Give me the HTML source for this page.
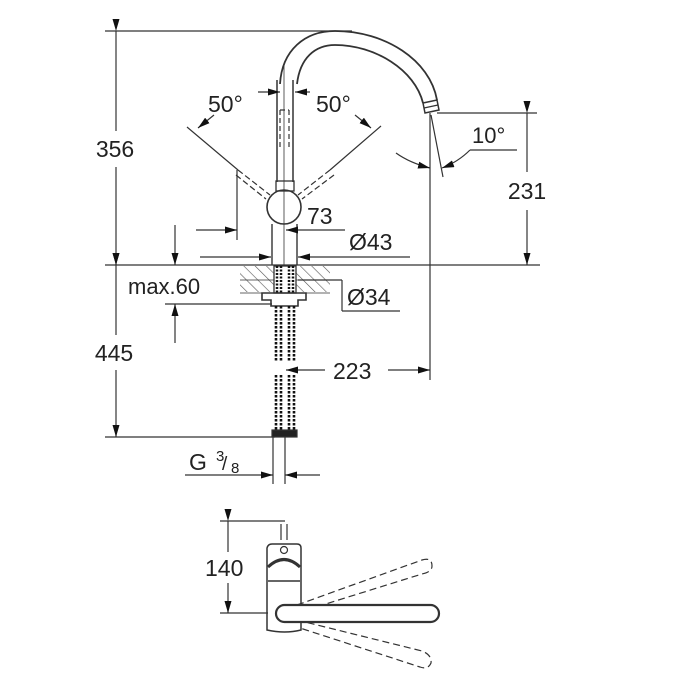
<!DOCTYPE html>
<html><head><style>html,body{margin:0;padding:0;background:#fff}svg{display:block}text{font-family:"Liberation Sans",sans-serif;fill:#222}</style></head>
<body>
<svg width="678" height="686" viewBox="0 0 678 686" xmlns="http://www.w3.org/2000/svg">
<defs>
<marker id="a" viewBox="0 0 12 7" refX="12" refY="3.5" markerWidth="12" markerHeight="7" orient="auto" markerUnits="userSpaceOnUse"><path d="M0,0L12,3.5L0,7z" fill="#111"/></marker>
<pattern id="h" width="8" height="8" patternUnits="userSpaceOnUse" patternTransform="rotate(-45)"><line x1="0" y1="0" x2="0" y2="8" stroke="#555" stroke-width="1.2"/></pattern>
</defs>
<g stroke="#333" stroke-width="1.2" fill="none">
<line x1="105" y1="31" x2="352" y2="31"/>
<line x1="105" y1="265" x2="540" y2="265"/>
<line x1="105" y1="437" x2="275" y2="437"/>
<line x1="116" y1="31" x2="116" y2="131" marker-start="url(#a)"/>
<line x1="116" y1="167" x2="116" y2="265" marker-end="url(#a)"/>
<line x1="116" y1="265" x2="116" y2="335" marker-start="url(#a)"/>
<line x1="116" y1="370" x2="116" y2="437" marker-end="url(#a)"/>
<line x1="175" y1="225" x2="175" y2="265" marker-end="url(#a)"/>
<line x1="165" y1="304" x2="272" y2="304"/>
<line x1="175" y1="343" x2="175" y2="304" marker-end="url(#a)"/>
<path d="M280,84 C282,50 305,31 335,31 C385,31 430,60 437,100" stroke-width="1.8"/>
<path d="M297,84 C300,58 315,45 335,45 C375,45 415,70 423,103" stroke-width="1.8"/>
<path d="M423,103 L437,100 L439,110 L425,113 Z" stroke-width="1.5"/>
<line x1="424" y1="108" x2="438" y2="105"/>
<line x1="277" y1="80" x2="277" y2="182" stroke-width="1.5"/>
<line x1="293" y1="80" x2="293" y2="182" stroke-width="1.5"/>
<path d="M280,110 L280,150 M289,110 L289,150 M280,110 L289,110" stroke-dasharray="5,3"/>
<rect x="276" y="181" width="18" height="10" stroke-width="1.3"/>
<circle cx="284" cy="207" r="17" stroke-width="1.6"/>
<line x1="284" y1="65" x2="284" y2="270" stroke-width="0.8"/>
<line x1="272" y1="224" x2="272" y2="265" stroke-width="1.4"/>
<line x1="297" y1="224" x2="297" y2="265" stroke-width="1.4"/>
<line x1="187" y1="127" x2="238" y2="170"/>
<path d="M238,170 L270,195 M236,175 L266,199" stroke-dasharray="6,3"/>
<line x1="381" y1="126" x2="330" y2="170"/>
<path d="M330,170 L298,195 M334,175 L302,199" stroke-dasharray="6,3"/>
<path d="M214,115 L198,128" marker-end="url(#a)"/>
<path d="M355,115 L371,128" marker-end="url(#a)"/>
<line x1="258" y1="92" x2="280" y2="92" marker-end="url(#a)"/>
<line x1="310" y1="92" x2="295" y2="92" marker-end="url(#a)"/>
<line x1="237" y1="170" x2="237" y2="240"/>
<line x1="196" y1="230" x2="237" y2="230" marker-end="url(#a)"/>
<line x1="345" y1="230" x2="286" y2="230" marker-end="url(#a)"/>
<line x1="200" y1="257" x2="271" y2="257" marker-end="url(#a)"/>
<line x1="410" y1="257" x2="298" y2="257" marker-end="url(#a)"/>
<rect x="240" y="266" width="90" height="26" fill="url(#h)" stroke="none"/>
<line x1="240" y1="280" x2="330" y2="280" stroke-width="0.8"/>
<line x1="240" y1="293" x2="330" y2="293" stroke-width="0.8"/>
<rect x="274" y="266" width="22" height="27" fill="#fff" stroke-width="1.3"/>
<path d="M277,266v27M281,266v27M289,266v27M293,266v27" stroke="#111" stroke-dasharray="2,1.5" stroke-width="2.5"/>
<path d="M262,293 L306,293 L306,300 L298,300 L298,306 L271,306 L271,300 L262,300 Z" stroke-width="1.6"/>
<line x1="298" y1="280" x2="342" y2="280"/>
<line x1="342" y1="280" x2="342" y2="311"/>
<line x1="342" y1="311" x2="400" y2="311"/>
<path d="M276,306v56M281,306v56M289,306v56M294,306v56" stroke="#111" stroke-dasharray="2.5,1.5" stroke-width="2.6"/>
<path d="M276,375v55M281,375v55M289,375v55M294,375v55" stroke="#111" stroke-dasharray="2.5,1.5" stroke-width="2.6"/>
<rect x="272" y="430" width="25" height="7" fill="#222"/>
<line x1="430" y1="113" x2="430" y2="380"/>
<line x1="325" y1="370" x2="286" y2="370" marker-end="url(#a)"/>
<line x1="388" y1="370" x2="430" y2="370" marker-end="url(#a)"/>
<line x1="437" y1="113" x2="537" y2="113"/>
<line x1="431" y1="115" x2="443" y2="177"/>
<path d="M396,153 Q410,163 430,168" marker-end="url(#a)"/>
<path d="M470,150 L517,150"/>
<path d="M470,150 Q458,162 442,168" marker-end="url(#a)"/>
<line x1="527" y1="113" x2="527" y2="172" marker-start="url(#a)"/>
<line x1="527" y1="210" x2="527" y2="265" marker-end="url(#a)"/>
<line x1="273" y1="437" x2="273" y2="484"/>
<line x1="285" y1="437" x2="285" y2="484"/>
<line x1="185" y1="475" x2="273" y2="475" marker-end="url(#a)"/>
<line x1="320" y1="475" x2="285" y2="475" marker-end="url(#a)"/>
<line x1="220" y1="521" x2="285" y2="521"/>
<line x1="220" y1="613" x2="268" y2="613"/>
<line x1="228" y1="521" x2="228" y2="552" marker-start="url(#a)"/>
<line x1="228" y1="583" x2="228" y2="613" marker-end="url(#a)"/>
<path d="M267,630 L267,548 Q268,544 272,544 L297,544 Q301,544 301,548 L301,630 Q285,634 267,630 Z" stroke-width="1.5"/>
<path d="M268,567 Q284,552 300,567" stroke-width="3"/>
<line x1="268" y1="581" x2="300" y2="581" stroke-width="1.5"/>
<circle cx="284" cy="550" r="3.5"/>
<line x1="281" y1="524" x2="281" y2="540"/><line x1="287" y1="524" x2="287" y2="540"/>
<path d="M297,605 L422,560 Q432,557 432,566 Q432,572 422,574 L300,612" stroke-dasharray="7,4"/>
<path d="M297,620 L422,651 Q432,655 431,663 Q428,670 420,667 L300,628" stroke-dasharray="7,4"/>
<rect x="276" y="605" width="163" height="17" rx="8.5" fill="#fff" stroke-width="2.2"/>
</g>
<g font-size="23">
<text x="115" y="157" text-anchor="middle">356</text>
<text x="114" y="361" text-anchor="middle">445</text>
<text x="128" y="294" font-size="22">max.60</text>
<text x="208" y="112">50°</text>
<text x="316" y="112">50°</text>
<text x="307" y="224">73</text>
<text x="349" y="250">Ø43</text>
<text x="347" y="305">Ø34</text>
<text x="333" y="379">223</text>
<text x="472" y="143" font-size="22">10°</text>
<text x="527" y="199" text-anchor="middle">231</text>
<text x="189" y="470">G</text>
<text x="216" y="461" font-size="15">3</text>
<text x="222" y="470" font-size="19">/</text>
<text x="231" y="473" font-size="15">8</text>
<text x="205" y="576">140</text>
</g>
</svg>
</body></html>
